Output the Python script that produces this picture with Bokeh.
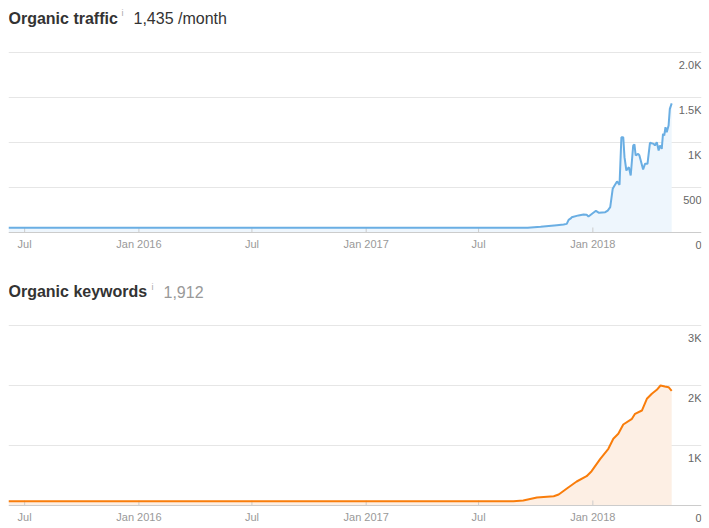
import math
import pandas as pd
from bokeh.plotting import figure
from bokeh.layouts import column
from bokeh.models import (Range1d, FixedTicker, ColumnDataSource, LabelSet, Label, Span)
from bokeh.core.properties import value
from bokeh.embed import file_html
from bokeh.resources import INLINE

# ---------------- data ----------------
traffic_dates = ["2015-06-05", "2017-09-18", "2017-10-09", "2017-11-04", "2017-11-15",
                 "2017-11-20", "2017-11-23", "2017-11-27", "2017-11-28", "2017-12-09",
                 "2017-12-17", "2017-12-22", "2017-12-25", "2018-01-06", "2018-01-11",
                 "2018-01-21", "2018-01-25", "2018-01-29", "2018-02-02", "2018-02-05",
                 "2018-02-09", "2018-02-13", "2018-02-16", "2018-02-19", "2018-02-21",
                 "2018-02-24", "2018-02-28", "2018-03-03", "2018-03-07", "2018-03-09",
                 "2018-03-11", "2018-03-15", "2018-03-17", "2018-03-23", "2018-03-26",
                 "2018-03-30", "2018-04-03", "2018-04-09", "2018-04-11", "2018-04-14",
                 "2018-04-17", "2018-04-19", "2018-04-22", "2018-04-24", "2018-04-26",
                 "2018-04-28", "2018-04-30", "2018-05-03", "2018-05-05", "2018-05-08"]
traffic_values = [52, 52, 63, 81, 88,
                  96, 141, 160, 170, 190,
                  200, 197, 178, 241, 219,
                  226, 244, 281, 485, 522,
                  567, 530, 1059, 1059, 837,
                  689, 726, 633, 967, 978,
                  856, 874, 856, 700, 763,
                  763, 997, 985, 967, 1003,
                  911, 967, 930, 1097, 1078,
                  1170, 1114, 1189, 1374, 1435]

keyword_dates = ["2015-06-05", "2017-08-26", "2017-09-11", "2017-10-03", "2017-10-30",
                 "2017-11-07", "2017-11-23", "2017-12-06", "2017-12-22", "2017-12-30",
                 "2018-01-13", "2018-01-26", "2018-02-03", "2018-02-11", "2018-02-19",
                 "2018-03-05", "2018-03-10", "2018-03-21", "2018-03-29", "2018-04-06",
                 "2018-04-14", "2018-04-20", "2018-04-27", "2018-05-03", "2018-05-08"]
keyword_values = [72, 72, 83, 133, 155,
                  183, 305, 400, 488, 572,
                  778, 945, 1112, 1195, 1350,
                  1445, 1528, 1583, 1778, 1862,
                  1928, 2000, 1983, 1972, 1912]

x_tick_dates = ["2015-07-01", "2016-01-01", "2016-07-01", "2017-01-01", "2017-07-01", "2018-01-01"]
x_tick_labels = ["Jul", "Jan 2016", "Jul", "Jan 2017", "Jul", "Jan 2018"]

traffic_ticks = [0, 500, 1000, 1500, 2000]
traffic_tick_labels = ["0", "500", "1K", "1.5K", "2.0K"]
keyword_ticks = [0, 1000, 2000, 3000]
keyword_tick_labels = ["0", "1K", "2K", "3K"]

x_start = "2015-06-05"
x_end = "2018-06-25"

FONT = "Liberation Sans"


def make_chart(dates, values, ymax, yticks, ylabels, line_color, fill_color,
               title, value_text, value_color, i_x, value_x, i_rise, height):
    # plot frame covers the whole canvas height; value 0 sits 232px below the top,
    # the top tick value sits 52px below the top
    zero_px, top_px = 232, 52
    units_per_px = ymax / (zero_px - top_px)
    y_lo = -(height - zero_px) * units_per_px
    y_hi = zero_px * units_per_px

    p = figure(width=709, height=height, x_axis_type="datetime",
               x_axis_location=None, y_axis_location=None,
               output_backend="svg", toolbar_location=None,
               min_border_left=8, min_border_right=8, min_border_top=0, min_border_bottom=0)
    p.x_range = Range1d(pd.Timestamp(x_start), pd.Timestamp(x_end))
    p.y_range = Range1d(y_lo, y_hi)
    p.outline_line_color = None
    p.background_fill_color = "white"
    p.border_fill_color = "white"

    src = ColumnDataSource(dict(x=pd.to_datetime(dates), y=values, y0=[0] * len(values)))
    p.varea(x="x", y1="y0", y2="y", source=src, fill_color=fill_color, fill_alpha=1)

    p.xgrid.visible = False
    p.ygrid.ticker = FixedTicker(ticks=yticks[1:])
    p.ygrid.grid_line_color = "#e6e6e6"
    p.ygrid.grid_line_width = 1

    # x axis line and inward ticks
    p.add_layout(Span(location=0, dimension="width", line_color="#cccccc", line_width=1))
    tsrc = ColumnDataSource(dict(x=pd.to_datetime(x_tick_dates), y=[0] * len(x_tick_dates),
                                 text=x_tick_labels))
    p.ray(x="x", y="y", source=tsrc, length=5, length_units="screen", angle=math.pi / 2,
          line_color="#cccccc", line_width=1)

    p.line(x="x", y="y", source=src, line_color=line_color, line_width=2)

    p.add_layout(LabelSet(x="x", y="y", text="text", source=tsrc, text_align="center",
                          text_baseline="alphabetic", y_offset=-15,
                          text_font=value(FONT), text_font_size="11px", text_color="#999999"))

    ysrc = ColumnDataSource(dict(x=[pd.Timestamp(x_end)] * len(yticks), y=yticks, text=ylabels))
    p.add_layout(LabelSet(x="x", y="y", text="text", source=ysrc, text_align="right",
                          text_baseline="alphabetic", y_offset=-16,
                          text_font=value(FONT), text_font_size="11px", text_color="#666666"))

    ty = height - 18
    p.add_layout(Label(x=0, y=ty, x_units="screen", y_units="screen", text=title,
                       text_font=FONT, text_font_size="16px", text_font_style="bold",
                       text_color="#333333", text_baseline="alphabetic"))
    p.add_layout(Label(x=i_x, y=ty + i_rise, x_units="screen", y_units="screen", text="i",
                       text_font=FONT, text_font_size="9px",
                       text_color="#aaaaaa", text_baseline="alphabetic"))
    p.add_layout(Label(x=value_x, y=ty, x_units="screen", y_units="screen", text=value_text,
                       text_font=FONT, text_font_size="16px",
                       text_color=value_color, text_baseline="alphabetic"))
    return p


p1 = make_chart(traffic_dates, traffic_values, 2000, traffic_ticks, traffic_tick_labels,
                "#6aaee3", "#eef6fd", "Organic traffic", "1,435 /month", "#333333",
                113, 125, 6, 273)
p2 = make_chart(keyword_dates, keyword_values, 3000, keyword_ticks, keyword_tick_labels,
                "#f97d0b", "#fdefe4", "Organic keywords", "1,912", "#999999",
                143, 155, 5, 255)

layout = column(p1, p2)
open("out.html", "w").write(file_html(layout, INLINE))
